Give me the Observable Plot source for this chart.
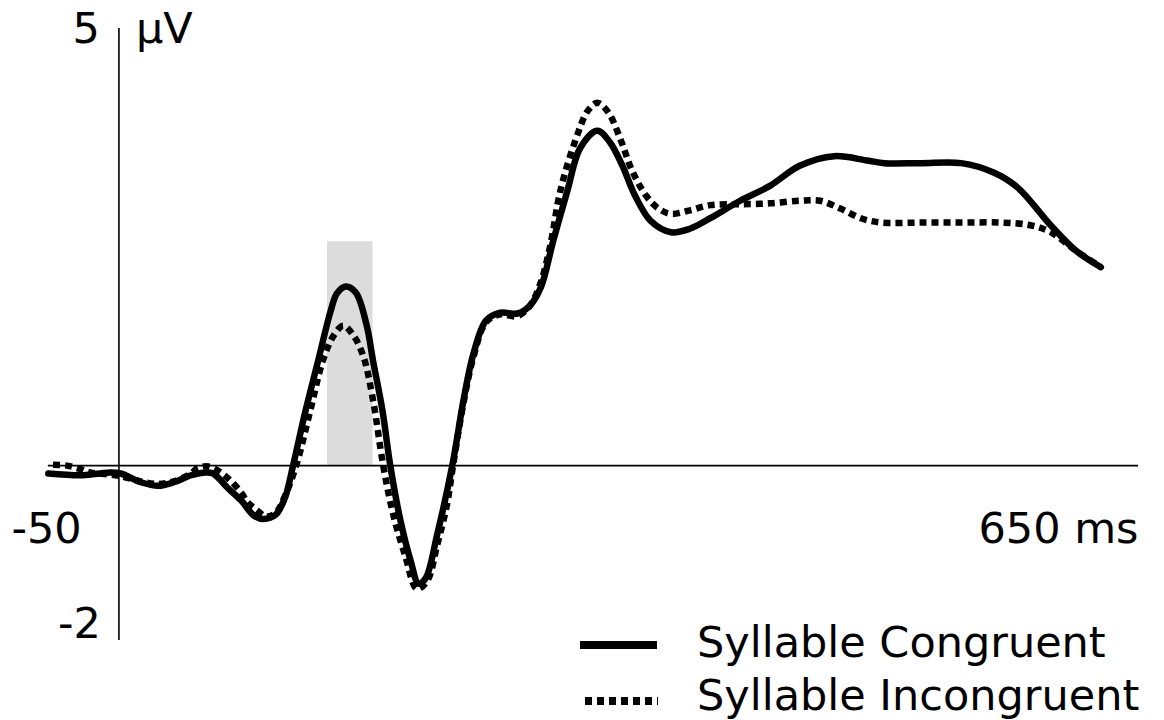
<!DOCTYPE html>
<html>
<head>
<meta charset="utf-8">
<script src="https://cdn.jsdelivr.net/npm/d3@7"></script>
<script src="https://cdn.jsdelivr.net/npm/@observablehq/plot@0.6"></script>
<style>
  html, body { margin: 0; padding: 0; background: #fff; }
  #wrap { position: relative; width: 1164px; height: 720px; overflow: hidden; font-family: "DejaVu Sans", sans-serif; }
  #legend { position: absolute; left: 560px; top: 615px; }
</style>
</head>
<body>
<div id="wrap"><div id="chart"></div><div id="legend"></div></div>
<script>
// ---- data ----
const seriesNames = ["Syllable Congruent", "Syllable Incongruent"];

const congruentMs = [-45,-23,-7,1,14,25,35,46,54,60,69,78,86,92,100,106,111,119,127,135,139,144.5,151,158,162,168,173,179.5,186,191,195.5,203,212.5,220,226,234,243,254,262,269,277,286,294,305,313,321,329,339,352,364,377,396,415,434,456,477,488,511,537,558,573,594,610,626];
const congruentUv = [-0.09,-0.11,-0.08,-0.09,-0.19,-0.23,-0.19,-0.11,-0.08,-0.09,-0.25,-0.40,-0.57,-0.61,-0.56,-0.36,0,0.63,1.20,1.77,1.97,2.05,1.98,1.60,1.20,0.63,0,-0.63,-1.09,-1.35,-1.29,-0.78,0,0.78,1.28,1.66,1.75,1.74,1.83,2.04,2.58,3.15,3.63,3.83,3.70,3.43,3.09,2.80,2.67,2.71,2.83,3.03,3.20,3.43,3.54,3.49,3.46,3.46,3.46,3.35,3.18,2.75,2.46,2.27];

const incongruentMs = [-42,-33,-24.5,-18,-7,1,14,25,35,46,50,57,65,71,78,82,88,93.5,100,106,113,122,130,137,143,149.5,156,162,168.5,175,182.5,190,196.5,203,209,213,220,226,234,243,254,262,269,275,281.5,291,299,305,312,320,327,336,344,352,364,377,396,415,434,447,460,473,486,511,537,562,581,594,610,626];
const incongruentUv = [0.01,0.0,-0.04,-0.08,-0.10,-0.12,-0.18,-0.21,-0.18,-0.09,-0.03,-0.01,-0.08,-0.17,-0.31,-0.42,-0.51,-0.58,-0.54,-0.34,0,0.63,1.20,1.49,1.60,1.49,1.24,0.75,0,-0.57,-1.03,-1.41,-1.32,-0.90,-0.46,0,0.75,1.24,1.64,1.73,1.71,1.83,2.10,2.52,3.15,3.72,4.06,4.15,4.04,3.72,3.38,3.09,2.94,2.88,2.92,2.98,2.99,3.00,3.03,3.03,2.94,2.83,2.78,2.78,2.78,2.78,2.75,2.67,2.46,2.27];

// analysis window (grey band)
const windowStart = [133];
const windowEnd = [162];
const windowTop = [2.56];

// axis tick labels
const yTickValues = [5, -2];
const yTickLabels = ["5", "-2"];
const yUnit = "µV";
const xTickValues = [-50, 650];
const xTickLabels = ["-50", "650 ms"];
const xDomain = [-50, 650];
const yDomain = [-2, 5];

// ---- build tables ----
const congruent = congruentMs.map((t, i) => ({t, v: congruentUv[i]}));
const incongruent = incongruentMs.map((t, i) => ({t, v: incongruentUv[i]}));
const band = windowStart.map((s, i) => ({x1: s, x2: windowEnd[i], y1: 0, y2: windowTop[i]}));
const yTicks = yTickValues.map((v, i) => ({v, label: yTickLabels[i]}));
const xTicks = xTickValues.map((t, i) => ({t, label: xTickLabels[i]}));

const FS = 43;
const chart = Plot.plot({
  width: 1164,
  height: 720,
  marginLeft: 40,
  marginRight: 26,
  marginTop: 28,
  marginBottom: 80,
  x: {domain: xDomain, axis: null},
  y: {domain: yDomain, axis: null},
  style: {fontFamily: "DejaVu Sans", background: "white", color: "black", overflow: "visible"},
  marks: [
    Plot.rect(band, {x1: "x1", x2: "x2", y1: "y1", y2: "y2", fill: "#dcdcdc"}),
    Plot.ruleY([0], {x1: congruentMs[0], x2: xDomain[1], stroke: "black", strokeWidth: 1.6}),
    Plot.ruleX([0], {y1: yDomain[0], y2: yDomain[1], stroke: "black", strokeWidth: 1.6}),
    Plot.line(incongruent, {x: "t", y: "v", stroke: "black", strokeWidth: 6.5, strokeDasharray: "7,5", strokeLinecap: "butt", curve: "catmull-rom"}),
    Plot.line(congruent, {x: "t", y: "v", stroke: "black", strokeWidth: 6.5, strokeLinecap: "round", strokeLinejoin: "round", curve: "catmull-rom"}),
    // y tick labels
    Plot.text(yTicks.filter(d => d.v === yDomain[1]), {x: 0, y: "v", text: "label", textAnchor: "end", dx: -19, dy: 1, fontSize: FS, fill: "black"}),
    Plot.text(yTicks.filter(d => d.v === yDomain[0]), {x: 0, y: "v", text: "label", textAnchor: "end", dx: -18, dy: -16, fontSize: FS, fill: "black"}),
    Plot.text(yTicks.filter(d => d.v === yDomain[1]), {x: 0, y: "v", text: () => yUnit, textAnchor: "start", dx: 17, dy: 1, fontSize: FS, fill: "black"}),
    // x tick labels
    Plot.text(xTicks.filter((d, i) => i === 0), {x: "t", y: 0, text: "label", textAnchor: "middle", dx: 6, dy: 64, fontSize: FS, fill: "black"}),
    Plot.text(xTicks.filter((d, i) => i === 1), {x: "t", y: 0, text: "label", textAnchor: "end", dx: 0, dy: 64, fontSize: FS, fill: "black"})
  ]
});
document.getElementById("chart").appendChild(chart);

// ---- legend (over the bottom of the plot) ----
const leg = d3.select("#legend").append("svg").attr("width", 604).attr("height", 105)
  .style("font-family", "DejaVu Sans").style("font-size", FS + "px");
leg.append("line").attr("x1", 20).attr("x2", 97).attr("y1", 30).attr("y2", 30)
  .attr("stroke", "black").attr("stroke-width", 8);
leg.append("text").attr("x", 137).attr("y", 42).text(seriesNames[0]);
leg.append("line").attr("x1", 25).attr("x2", 98).attr("y1", 86).attr("y2", 86)
  .attr("stroke", "black").attr("stroke-width", 8).attr("stroke-dasharray", "7,5");
leg.append("text").attr("x", 137).attr("y", 95).text(seriesNames[1]);
</script>
</body>
</html>
